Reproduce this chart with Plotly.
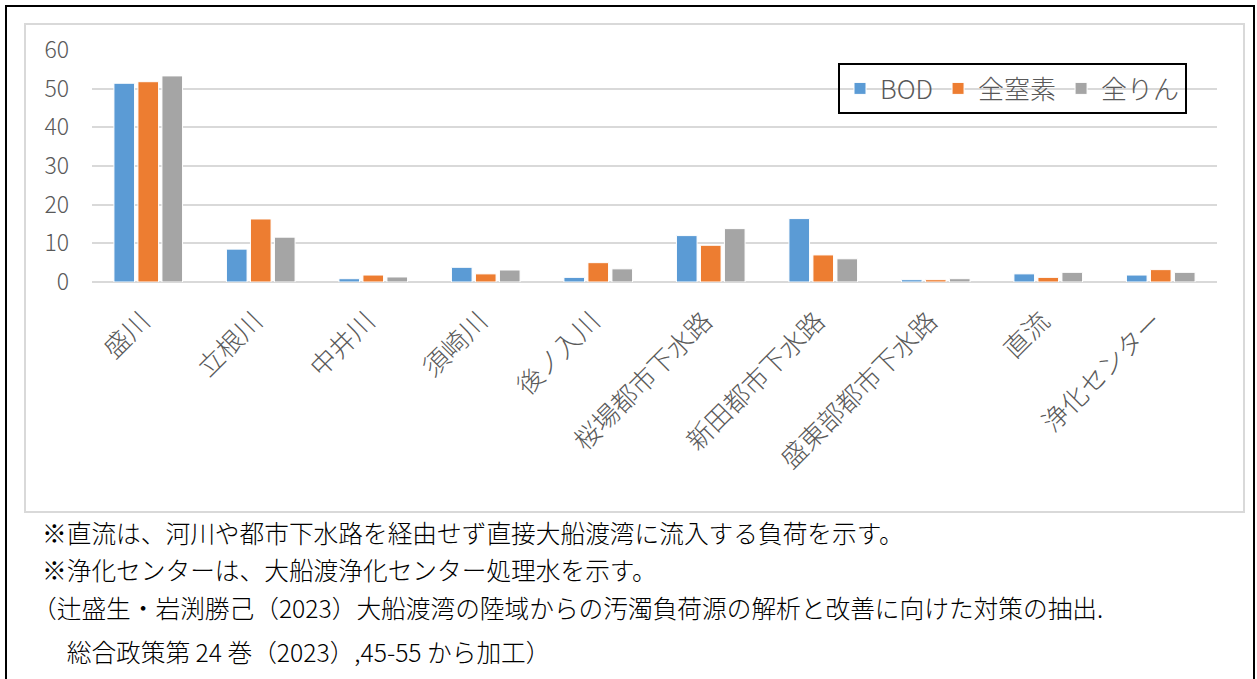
import plotly.graph_objects as go

categories = ["盛川", "立根川", "中井川", "須崎川", "後ノ入川", "桜場都市下水路",
              "新田都市下水路", "盛東部都市下水路", "直流", "浄化センター"]
bod = [51.4, 8.5, 0.85, 3.8, 1.2, 12.0, 16.4, 0.6, 2.1, 1.8]
tn = [51.8, 16.3, 1.8, 2.1, 5.0, 9.5, 7.0, 0.6, 1.2, 3.2]
tp = [53.3, 11.6, 1.3, 3.1, 3.4, 13.8, 6.0, 0.85, 2.5, 2.5]
series_names = ["BOD", "全窒素", "全りん"]
y_ticks = [0, 10, 20, 30, 40, 50, 60]
notes = [
    "※直流は、河川や都市下水路を経由せず直接大船渡湾に流入する負荷を示す。",
    "※浄化センターは、大船渡浄化センター処理水を示す。",
    "（辻盛生・岩渕勝己（2023）大船渡湾の陸域からの汚濁負荷源の解析と改善に向けた対策の抽出.",
    "　総合政策第 24 巻（2023）,45-55 から加工）",
]

W, H = 1257, 679
L, R, T, B = 92, 1217, 50, 282  # plot area in pixels


def px(x):
    return (x - L) / (R - L)


def py(y):
    return (B - y) / (B - T)


FONT = "Noto Sans CJK JP"
GRAY = "#595959"
colors = ["#5B9BD5", "#ED7D31", "#A5A5A5"]

fig = go.Figure()
for name, vals, c in zip(series_names, [bod, tn, tp], colors):
    fig.add_trace(go.Bar(x=categories, y=vals, name=name,
                         marker=dict(color=c, line=dict(color="white", width=1))))

fig.update_layout(
    width=W, height=H,
    margin=dict(l=L, r=W - R, t=T, b=H - B, pad=0),
    paper_bgcolor="white", plot_bgcolor="white",
    barmode="group", bargap=0.36, bargroupgap=0.14,
    font=dict(family=FONT, color=GRAY, weight=300),
    showlegend=True,
    legend=dict(orientation="h", x=px(838), y=py(63), xanchor="left", yanchor="top",
                bgcolor="rgba(0,0,0,0)", bordercolor="black", borderwidth=2,
                font=dict(family=FONT, size=26, color=GRAY, weight=300)),
)
fig.update_yaxes(range=[0, 60], tickvals=y_ticks, showgrid=True, gridcolor="#d9d9d9",
                 gridwidth=2, zeroline=True, zerolinecolor="#d9d9d9", zerolinewidth=2,
                 showline=False, ticks="", ticklabelstandoff=22,
                 tickfont=dict(family=FONT, size=23, color=GRAY, weight=300),
                 automargin=False)
fig.update_xaxes(tickangle=-45, showgrid=False, showline=False, ticks="",
                 ticklabelstandoff=18, ticklabelshift=-6,
                 tickfont=dict(family=FONT, size=26, color=GRAY, weight=300),
                 automargin=False)

# outer black frame and inner chart frame
fig.add_shape(type="rect", xref="paper", yref="paper", x0=px(6), x1=px(1254),
              y0=py(6), y1=py(690), line=dict(color="black", width=2), layer="below")
fig.add_shape(type="rect", xref="paper", yref="paper", x0=px(25), x1=px(1244),
              y0=py(24), y1=py(512), line=dict(color="#d9d9d9", width=2), layer="below")

note_pos = [(40, 532), (40, 569), (30, 607), (40, 651)]
for txt, (x, y) in zip(notes, note_pos):
    fig.add_annotation(text=txt, xref="paper", yref="paper", x=px(x), y=py(y),
                       xanchor="left", yanchor="middle", showarrow=False,
                       font=dict(family=FONT, size=24.7, color="black", weight=300))

fig.write_html("out.html", config={"displayModeBar": False},
               post_script="document.body.style.margin='0';")
